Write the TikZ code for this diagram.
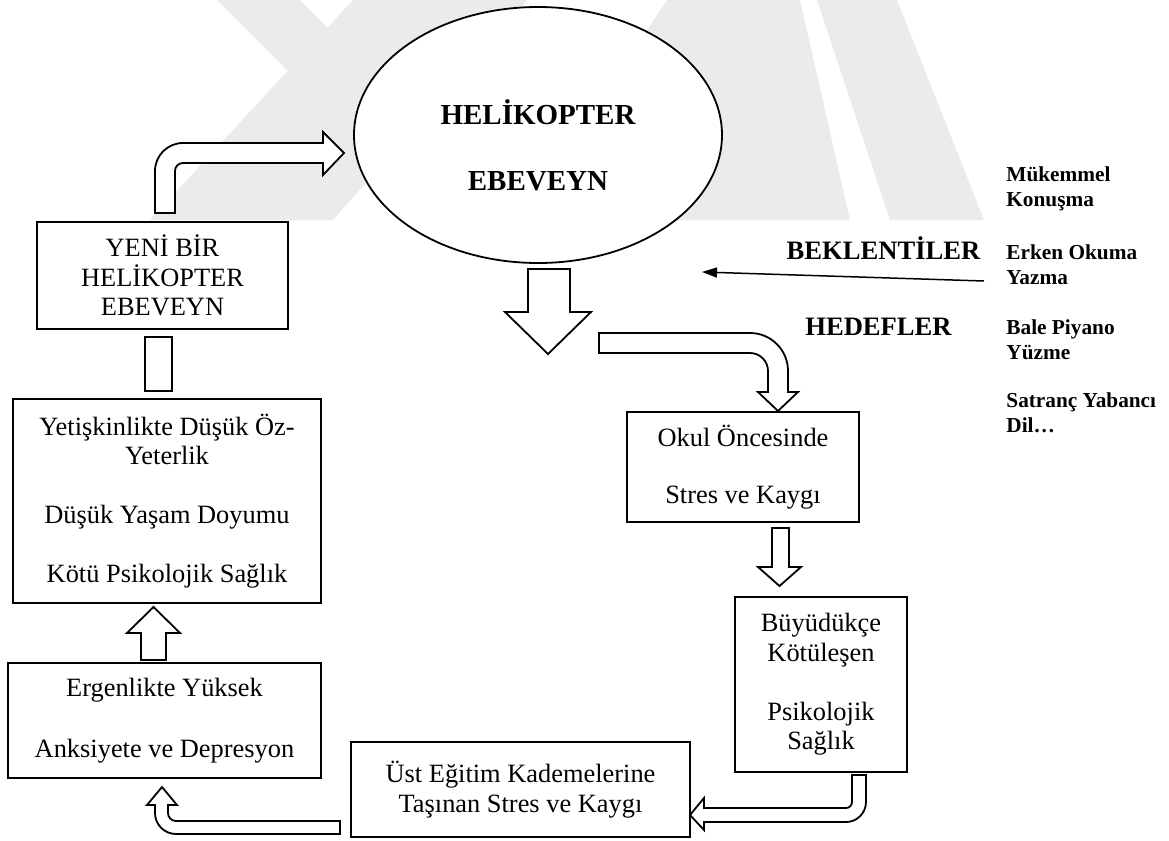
\documentclass[tikz,border=0pt]{standalone}
\usepackage{fontspec}
\setmainfont{Liberation Serif}
\usetikzlibrary{arrows.meta,shapes.geometric}
\begin{document}
\begin{tikzpicture}[x=0.5pt,y=-0.5pt,
  box/.style={draw, line width=0.9pt, fill=white, align=center, inner sep=0pt,
              font=\fontsize{13.2}{14.75}\selectfont},
  thinbox/.style={box, line width=0.6pt},
  blockarrow/.style={draw, line width=0.9pt, fill=white, line join=miter},
  wm/.style={fill=black!8, draw=none},
  bigbold/.style={font=\fontsize{14.5}{16}\selectfont\bfseries, inner sep=0pt},
  midbold/.style={font=\fontsize{13.3}{15}\selectfont\bfseries, inner sep=0pt},
  smallbold/.style={font=\fontsize{10.65}{12.5}\selectfont\bfseries, align=left, inner sep=0pt},
]
% canvas
\fill[white] (0,0) rectangle (1169,841);
\useasboundingbox (0,0) rectangle (1169,841);

% faint watermark
\fill[wm] (150,220) -- (333,220) -- (527,0) -- (353,0) -- cycle;
\fill[wm] (217,0) -- (300,0) -- (380,80) -- (297,80) -- cycle;
\fill[wm] (667,0) -- (800,0) -- (850,220) -- (522,220) -- cycle;
\fill[wm] (817,0) -- (897,0) -- (984,220) -- (890,220) -- cycle;

% ellipse
\node[draw, ellipse, line width=0.9pt, fill=white, minimum width=184pt,
      minimum height=128pt, inner sep=0pt] (heli) at (538,135) {};
\node[bigbold, anchor=base] (heliA) at (538,124.5) {HELİKOPTER};
\node[bigbold, anchor=base] (heliB) at (538,190.5) {EBEVEYN};

% boxes
\node[box, minimum width=125.5pt, minimum height=53.5pt] (yeni) at (162.5,275.5)
  {YENİ BİR\\HELİKOPTER\\EBEVEYN};
\node[box, minimum width=154pt, minimum height=102pt] (yetis) at (167,501)
  {Yetişkinlikte Düşük Öz-\\Yeterlik\\[14.75pt]Düşük Yaşam Doyumu\\[14.75pt]Kötü Psikolojik Sağlık};
\node[box, minimum width=156.5pt, minimum height=57.5pt] (ergen) at (164.5,720.5)
  {Ergenlikte Yüksek\\[15.5pt]Anksiyete ve Depresyon};
\node[box, minimum width=169.5pt, minimum height=47.5pt] (ust) at (520.5,789.5)
  {Üst Eğitim Kademelerine\\Taşınan Stres ve Kaygı};
\node[thinbox, minimum width=116pt, minimum height=55pt] (okul) at (743,467)
  {Okul Öncesinde\\[13.8pt]Stres ve Kaygı};
\node[box, line width=0.75pt, minimum width=86pt, minimum height=87.5pt] (buyu) at (821,684.5)
  {Büyüdükçe\\Kötüleşen\\[14.75pt]Psikolojik\\Sağlık};

% labels on the right
\node[midbold, anchor=base] (bek) at (883.5,259) {BEKLENTİLER};
\node[midbold, anchor=base] (hed) at (878.5,335) {HEDEFLER};
\node[smallbold, anchor=west] (l1) at (1006,188.5) {Mükemmel\\Konuşma};
\node[smallbold, anchor=west] (l2) at (1006,264.5) {Erken Okuma\\Yazma};
\node[smallbold, anchor=west] (l3) at (1006,339.5) {Bale Piyano\\Yüzme};
\node[smallbold, anchor=west] (l4) at (1006,412.5) {Satranç Yabancı\\Dil…};

% thin arrow
\coordinate (gstart) at (984,281);
\coordinate (gend) at (702,272);
\draw[line width=0.75pt, -{Triangle[length=7.5pt,width=5pt]}] (gstart) -- (gend);

% bent arrow: new parent -> helicopter parent
\draw[blockarrow] (155,213) -- (155,171) arc[start angle=180,end angle=270,radius=28]
  -- (323,143) -- (323,132) -- (344,153) -- (323,175) -- (323,163) -- (183,163)
  arc[start angle=270,end angle=180,radius=8] -- (175,213) -- cycle;

% down arrow under ellipse
\draw[blockarrow] (528,269) -- (570,269) -- (570,312) -- (591,312) -- (548,354)
  -- (505,312) -- (528,312) -- cycle;

% bent arrow to Okul box
\draw[blockarrow] (599,333) -- (750,333) arc[start angle=270,end angle=360,radius=38]
  -- (788,392) -- (798,392) -- (778,411) -- (758,392) -- (768,392) -- (768,371)
  arc[start angle=0,end angle=-90,radius=18] -- (599,353) -- cycle;

% down arrow Okul -> Buyudukce
\draw[blockarrow] (772,528) -- (789,528) -- (789,567) -- (801,567) -- (779.5,586)
  -- (758,567) -- (772,567) -- cycle;

% bent arrow Buyudukce -> Ust
\draw[blockarrow] (852,775) -- (866,775) -- (866,802) arc[start angle=0,end angle=90,radius=20]
  -- (704,822) -- (704,830) -- (690,815) -- (704,798) -- (704,808) -- (846,808)
  arc[start angle=90,end angle=0,radius=6] -- cycle;

% bent arrow Ust -> Ergenlikte
\draw[blockarrow] (340,821) -- (340,834) -- (176,834) arc[start angle=90,end angle=180,radius=21]
  -- (155,805) -- (147,805) -- (162,787) -- (177,805) -- (168,805) -- (168,813)
  arc[start angle=180,end angle=90,radius=8] -- cycle;

% up arrow Ergenlikte -> Yetiskinlikte
\draw[blockarrow] (141,660) -- (166,660) -- (166,633) -- (180,633) -- (153.5,607)
  -- (127,633) -- (141,633) -- cycle;

% bar between Yetiskinlikte and Yeni
\draw[blockarrow] (145,337) rectangle (172,391);
\end{tikzpicture}
\end{document}
